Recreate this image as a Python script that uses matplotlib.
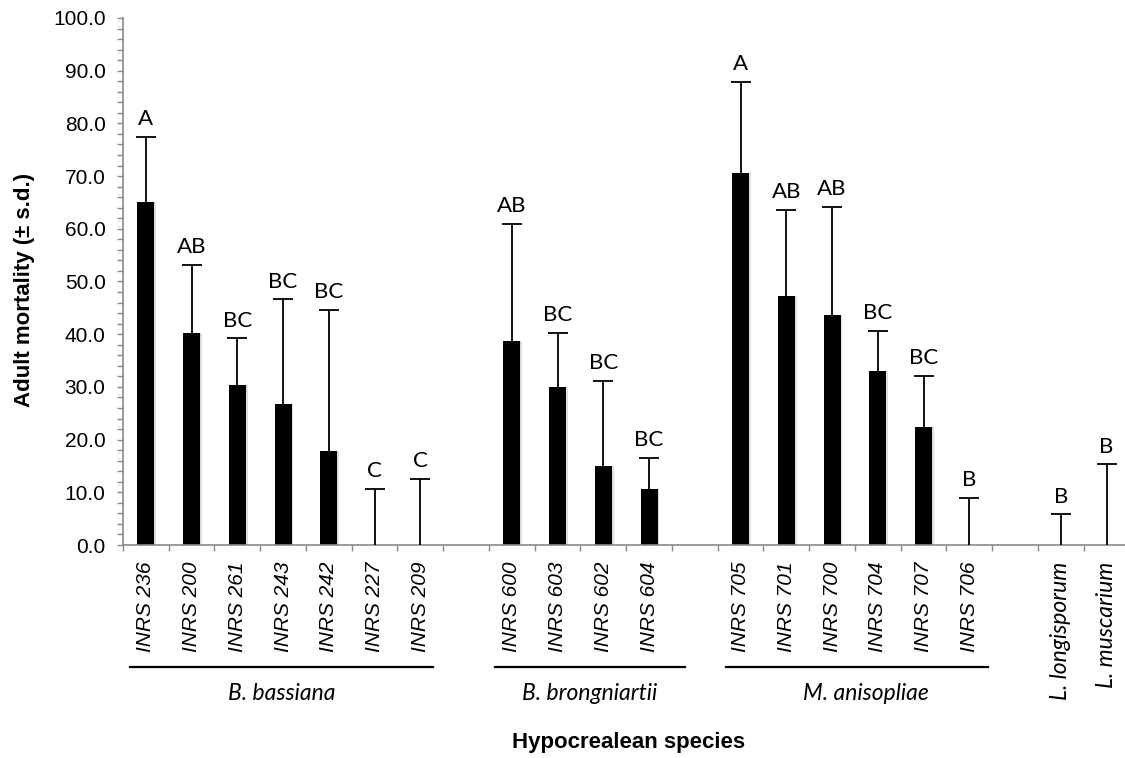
import numpy as np
import matplotlib
matplotlib.use('Agg')
import matplotlib.pyplot as plt
import matplotlib.transforms as mtransforms
from matplotlib.ticker import MultipleLocator, FormatStrFormatter, FixedLocator

# Data
strains = ['INRS 236', 'INRS 200', 'INRS 261', 'INRS 243', 'INRS 242', 'INRS 227', 'INRS 209',
           'INRS 600', 'INRS 603', 'INRS 602', 'INRS 604',
           'INRS 705', 'INRS 701', 'INRS 700', 'INRS 704', 'INRS 707', 'INRS 706',
           'L. longisporum', 'L. muscarium']
slots = [0, 1, 2, 3, 4, 5, 6, 8, 9, 10, 11, 13, 14, 15, 16, 17, 18, 20, 21]
mortality = [65.1, 40.2, 30.4, 26.7, 17.9, 0.0, 0.0,
             38.8, 30.0, 14.9, 10.6,
             70.6, 47.3, 43.6, 33.1, 22.3, 0.0,
             0.0, 0.0]
sd = [12.3, 12.9, 8.8, 19.9, 26.7, 10.6, 12.6,
      22.1, 10.3, 16.2, 6.0,
      17.3, 16.3, 20.6, 7.5, 9.8, 8.9,
      5.8, 15.3]
letters = ['A', 'AB', 'BC', 'BC', 'BC', 'C', 'C',
           'AB', 'BC', 'BC', 'BC',
           'A', 'AB', 'AB', 'BC', 'BC', 'B',
           'B', 'B']
species = ['B. bassiana', 'B. brongniartii', 'M. anisopliae']
species_lines = [(-0.35, 6.27), (7.63, 11.78), (12.68, 18.4)]
species_centers = [2.96, 9.7, 15.75]

arial = 'Liberation Sans'
calibri = 'Lato'
grey = '#8a8a8a'

fig = plt.figure(figsize=(11.25, 7.58), dpi=100)
ax = fig.add_axes([0.1093, 0.281, 0.8947, 0.6953])

x = np.array(slots)
y = np.array(mortality)
err = np.array(sd)

# soft shadow like the spreadsheet bars
ax.bar(x + 0.04, y, width=0.37, color='#dedede', zorder=1)
ax.bar(x, y, width=0.37, color='black', zorder=2)
eb = ax.errorbar(x, y, yerr=[np.zeros_like(err), err], fmt='none', ecolor='black',
                 elinewidth=1.3, capsize=7, capthick=1.3, zorder=3)
# only the upper caps are drawn in the original
for cap in eb[1]:
    if np.allclose(cap.get_ydata(), y):
        cap.set_visible(False)

for xi, top, lab in zip(x, y + err, letters):
    ax.annotate(lab, (xi, top), xytext=(0, 8.5), textcoords='offset points',
                ha='center', va='baseline', fontsize=16, family=calibri)

ax.set_xlim(-0.5, 21.5)
ax.set_ylim(0, 100)

ax.yaxis.set_major_locator(MultipleLocator(10))
ax.yaxis.set_minor_locator(MultipleLocator(2))
ax.yaxis.set_major_formatter(FormatStrFormatter('%.1f'))
ax.tick_params(axis='y', which='both', direction='out', color=grey, length=4.5, width=1,
               labelsize=15, pad=8)
for t in ax.get_yticklabels():
    t.set_family(arial)

ax.xaxis.set_major_locator(FixedLocator(np.arange(-0.5, 22, 1.0)))
ax.xaxis.set_minor_locator(FixedLocator(slots))
ax.set_xticklabels([])
ax.set_xticklabels(strains, minor=True, rotation=90, fontsize=15, style='italic', family=arial)
ax.tick_params(axis='x', which='major', direction='out', color=grey, length=4.5, width=1)
ax.tick_params(axis='x', which='minor', length=0, pad=12)
for t in ax.get_xticklabels(minor=True):
    if t.get_text().startswith('L.'):
        t.set_family(calibri)
        t.set_fontsize(16.5)

for s in ['top', 'right']:
    ax.spines[s].set_visible(False)
for s in ['left', 'bottom']:
    ax.spines[s].set_color(grey)
    ax.spines[s].set_linewidth(1.2)

# group underlines and names
trans = mtransforms.blended_transform_factory(ax.transData, fig.transFigure)
for (x0, x1), xc, name in zip(species_lines, species_centers, species):
    ax.plot([x0, x1], [0.120, 0.120], color='black', lw=1.6, transform=trans, clip_on=False)
    ax.text(xc, 0.0857, name, transform=trans, ha='center', va='center',
            fontsize=16.5, style='italic', family=calibri)

fig.text(0.022, 0.617, 'Adult mortality (± s.d.)', rotation=90, ha='center', va='center',
         fontsize=16, fontweight='bold', family=arial)
fig.text(0.559, 0.021, 'Hypocrealean species', ha='center', va='center',
         fontsize=16, fontweight='bold', family=arial)

fig.savefig('out.png', dpi=100)
